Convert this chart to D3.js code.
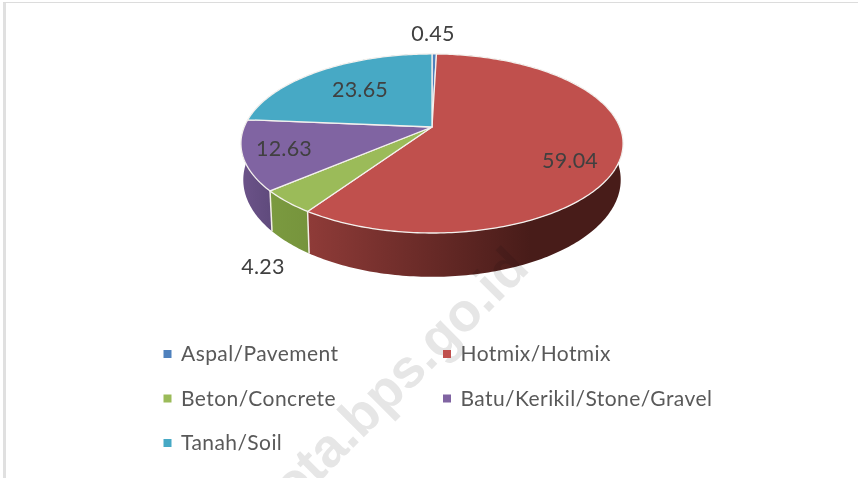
<!DOCTYPE html>
<html>
<head>
<meta charset="utf-8">
<script src="https://cdn.jsdelivr.net/npm/d3@7"></script>
<style>
html,body{margin:0;padding:0;background:#fff;overflow:hidden}
svg{display:block;filter:blur(0.35px)}
text{font-family:Lato,"Open Sans",sans-serif}
</style>
</head>
<body>
<div id="chart"></div>
<script>
const categories = ["Aspal/Pavement","Hotmix/Hotmix","Beton/Concrete","Batu/Kerikil/Stone/Gravel","Tanah/Soil"];
const values = [0.45,59.04,4.23,12.63,23.65];
const valueLabels = ["0.45","59.04","4.23","12.63","23.65"];
const colors = ["#4f81bd","#c0504d","#9bbb59","#8064a2","#47a9c5"];
const wallStart = ["#3f6797","#8f3b38","#7b9a40","#6c5389","#3b8aa0"];
const wallEnd = ["#3f6797","#481c19","#76943c","#5f4a7c","#3b8aa0"];
const watermark = "ota.bps.go.id";

const width = 858, height = 478;
const cx = 432, persp = 0.184;
const topRim = {a:187.8, y0:127, b:86.5};
const lowRim = {a:185.5, y0:162, b:93.7};

const svg = d3.select("#chart").append("svg").attr("width",width).attr("height",height);
const defs = svg.append("defs");

function project(rim, angle){
  const u = Math.sin(angle), v = -Math.cos(angle), d = 1 - persp*v;
  return [cx + rim.a*u/d, rim.y0 + rim.b*v/d];
}
const line = d3.line();
const arcs = d3.pie().sort(null).value(d=>d)(values);
function samples(d){
  const n = Math.max(2, Math.ceil((d.endAngle-d.startAngle)*60));
  const s = d3.scaleLinear().domain([0,n]).range([d.startAngle,d.endAngle]);
  return d3.range(n+1).map(s);
}

// page frame
svg.append("line").attr("x1",4.5).attr("x2",4.5).attr("y1",2).attr("y2",height).attr("stroke","#e0e0e0").attr("stroke-width",3);
svg.append("line").attr("x1",3).attr("x2",width).attr("y1",2.5).attr("y2",2.5).attr("stroke","#dcdcdc").attr("stroke-width",1);

// walls
arcs.forEach((d,i)=>{
  const xs = samples(d);
  const upper = xs.map(a=>project(topRim,a));
  const lower = xs.map(a=>project(lowRim,a)).reverse();
  const xExt = d3.extent(upper.concat(lower),p=>p[0]);
  const g = defs.append("linearGradient").attr("id","wall"+i).attr("gradientUnits","userSpaceOnUse")
    .attr("x1",xExt[0]).attr("x2",i===1 ? 530 : xExt[1]).attr("y1",0).attr("y2",0);
  g.append("stop").attr("offset",0).attr("stop-color",wallStart[i]);
  g.append("stop").attr("offset",1).attr("stop-color",wallEnd[i]);
  svg.append("path").attr("d",line(upper.concat(lower))+"Z").attr("fill",`url(#wall${i})`);
});
// wall edges
arcs.forEach(d=>{
  const a = d.startAngle;
  if(a>Math.PI/2 && a<Math.PI*1.4){
    svg.append("path").attr("d",line([project(topRim,a),project(lowRim,a)]))
      .attr("stroke","#f3efe6").attr("stroke-width",1.5).attr("fill","none");
  }
});

// top faces
arcs.forEach((d,i)=>{
  const pts = [[cx,topRim.y0]].concat(samples(d).map(a=>project(topRim,a)));
  svg.append("path").attr("d",line(pts)+"Z").attr("fill",colors[i])
    .attr("stroke","#f4f1ee").attr("stroke-width",1.3).attr("stroke-linejoin","round");
});

// watermark
svg.append("text").attr("transform","translate(531,270) rotate(-45)")
  .attr("text-anchor","end").attr("font-size",54).attr("font-weight",700)
  .style("font-family","'Liberation Sans',Arial,sans-serif")
  .style("mix-blend-mode","multiply").attr("fill","#e6e6e6").text(watermark);

// data labels
const labelX = [433,570,263,284,360];
const labelY = [33,160,266,148,89];
svg.selectAll("text.val").data(valueLabels).enter().append("text").attr("class","val")
  .attr("x",(d,i)=>labelX[i]).attr("y",(d,i)=>labelY[i]).attr("dy","0.35em")
  .attr("text-anchor","middle").attr("font-size",21.5).attr("letter-spacing",0.2).attr("fill","#404040").text(d=>d);

// legend
const legX = [163.5,443];
const legRows = [354,398.5,443];
const legend = svg.selectAll("g.leg").data(categories).enter().append("g").attr("class","leg")
  .attr("transform",(d,i)=>`translate(${legX[i%2]},${legRows[Math.floor(i/2)]})`);
legend.append("rect").attr("x",0).attr("y",-4).attr("width",8).attr("height",8).attr("fill",(d,i)=>colors[i]);
legend.append("text").attr("x",17.5).attr("y",7).attr("font-size",21).attr("letter-spacing",0.42).attr("fill","#595959").text(d=>d);
</script>
</body>
</html>
